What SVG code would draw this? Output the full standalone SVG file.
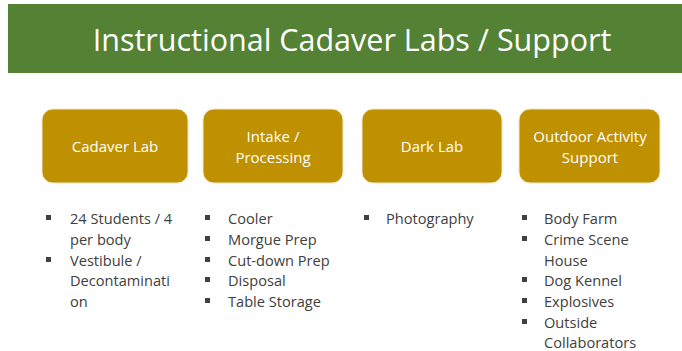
<svg xmlns="http://www.w3.org/2000/svg" width="682" height="351" viewBox="0 0 682 351">
<style>
.title{font-family:"Open Sans","Noto Sans",sans-serif;font-size:30.5px;fill:#fff;text-anchor:middle}
.box{fill:#BF9000;stroke:#F2E6C4;stroke-width:1}
.bt{font-family:"Open Sans","Noto Sans",sans-serif;font-size:15px;fill:#fff;text-anchor:middle}
.li{font-family:"Open Sans","Noto Sans",sans-serif;font-size:14.6px;fill:#404040}
.bu{fill:#404040}
</style>
<rect x="0" y="0" width="682" height="351" fill="#fff"/>
<g id="banner">
<rect x="8" y="4" width="674" height="69" fill="#548235"/>
<text class="title" x="352" y="51">Instructional Cadaver Labs / Support</text>
</g>
<g id="cadaver-lab">
<rect class="box" x="42" y="109" width="146" height="74" rx="11"/>
<text class="bt" x="115" y="152">Cadaver Lab</text>
</g>
<g id="intake">
<rect class="box" x="203" y="109" width="140" height="74" rx="11"/>
<text class="bt" x="273" y="142">Intake /</text>
<text class="bt" x="273" y="163">Processing</text>
</g>
<g id="dark-lab">
<rect class="box" x="362" y="109" width="140" height="74" rx="11"/>
<text class="bt" x="432" y="152">Dark Lab</text>
</g>
<g id="outdoor">
<rect class="box" x="519" y="109" width="141" height="74" rx="11"/>
<text class="bt" x="590" y="142">Outdoor Activity</text>
<text class="bt" x="590" y="163">Support</text>
</g>
<g id="list-cadaver">
<rect class="bu" x="46" y="215" width="5" height="5"/>
<rect class="bu" x="46" y="257" width="5" height="5"/>
<text class="li" x="70" y="224">24 Students / 4</text>
<text class="li" x="70" y="245">per body</text>
<text class="li" x="70" y="266">Vestibule /</text>
<text class="li" x="70" y="286">Decontaminati</text>
<text class="li" x="70" y="307">on</text>
</g>
<g id="list-intake">
<rect class="bu" x="205" y="215" width="5" height="5"/>
<rect class="bu" x="205" y="236" width="5" height="5"/>
<rect class="bu" x="205" y="257" width="5" height="5"/>
<rect class="bu" x="205" y="277" width="5" height="5"/>
<rect class="bu" x="205" y="298" width="5" height="5"/>
<text class="li" x="228" y="224">Cooler</text>
<text class="li" x="228" y="245">Morgue Prep</text>
<text class="li" x="228" y="266">Cut-down Prep</text>
<text class="li" x="228" y="286">Disposal</text>
<text class="li" x="228" y="307">Table Storage</text>
</g>
<g id="list-dark">
<rect class="bu" x="364" y="215" width="5" height="5"/>
<text class="li" x="386" y="224">Photography</text>
</g>
<g id="list-outdoor">
<rect class="bu" x="522" y="215" width="5" height="5"/>
<rect class="bu" x="522" y="236" width="5" height="5"/>
<rect class="bu" x="522" y="277" width="5" height="5"/>
<rect class="bu" x="522" y="298" width="5" height="5"/>
<rect class="bu" x="522" y="319" width="5" height="5"/>
<text class="li" x="544" y="224">Body Farm</text>
<text class="li" x="544" y="245">Crime Scene</text>
<text class="li" x="544" y="266">House</text>
<text class="li" x="544" y="286">Dog Kennel</text>
<text class="li" x="544" y="307">Explosives</text>
<text class="li" x="544" y="328">Outside</text>
<text class="li" x="544" y="348">Collaborators</text>
</g>
<g id="connectors"></g>
</svg>
